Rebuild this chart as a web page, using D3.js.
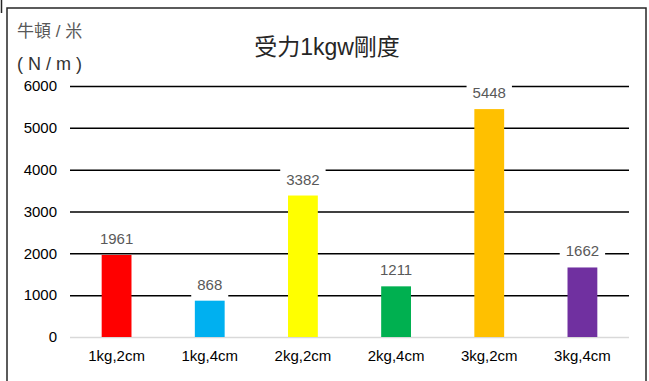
<!DOCTYPE html>
<html>
<head>
<meta charset="utf-8">
<script src="https://cdn.jsdelivr.net/npm/d3@7/dist/d3.min.js"></script>
<style>
  html, body { margin: 0; padding: 0; background: #fff; }
  svg { display: block; }
  text { font-family: "Liberation Sans", Arial, "Noto Sans CJK TC", sans-serif; }
</style>
</head>
<body>
<svg id="chart" width="649" height="381"></svg>
<script>
// Stiffness per 1 kgw of load, by mass and spring length
const categories = ["1kg,2cm", "1kg,4cm", "2kg,2cm", "2kg,4cm", "3kg,2cm", "3kg,4cm"];
const stiffness = [1961, 868, 3382, 1211, 5448, 1662];
const barColors = ["#ff0000", "#00b0f0", "#ffff00", "#00b050", "#ffc000", "#7030a0"];
const yTicks = [0, 1000, 2000, 3000, 4000, 5000, 6000];
const titleText = "受力1kgw剛度";
const yTitleLines = ["牛頓 / 米", "( N / m )"];

const svg = d3.select("#chart");
const plot = { left: 70, right: 629, top: 86, bottom: 337 };

// outer frame
svg.append("rect").attr("x", 7).attr("y", 8).attr("width", 639).attr("height", 380)
  .attr("fill", "#fff").attr("stroke", "#262626").attr("stroke-width", 1.5);
svg.append("line").attr("x1", 1.5).attr("x2", 1.5).attr("y1", 0).attr("y2", 13)
  .attr("stroke", "#262626").attr("stroke-width", 1.5);

const x = d3.scaleBand().domain(categories).range([plot.left, plot.right]).paddingInner(0.68).paddingOuter(0.34);
const y = d3.scaleLinear().domain([0, 6000]).range([plot.bottom, plot.top]);

// horizontal gridlines
const yAxis = d3.axisLeft(y).tickValues(yTicks).tickSize(-(plot.right - plot.left)).tickPadding(13).tickFormat(d3.format("d"));
const gy = svg.append("g").attr("transform", `translate(${plot.left},0)`).call(yAxis);
gy.select(".domain").remove();
gy.selectAll(".tick line")
  .attr("stroke", d => d === 0 ? "#d9d9d9" : "#000")
  .attr("stroke-width", 1.5);
gy.selectAll(".tick text").attr("font-size", 15).attr("fill", "#000");

// category axis
const xAxis = d3.axisBottom(x).tickSize(0).tickPadding(13);
const gx = svg.append("g").attr("transform", `translate(0,${plot.bottom})`).call(xAxis);
gx.select(".domain").remove();
gx.selectAll(".tick text").attr("font-size", 15).attr("fill", "#000");

// bars
svg.append("g").selectAll("rect").data(stiffness).join("rect")
  .attr("x", (d, i) => x(categories[i]))
  .attr("width", x.bandwidth())
  .attr("y", d => y(d))
  .attr("height", d => y(0) - y(d))
  .attr("fill", (d, i) => barColors[i]);

// value labels on a white backing
const lab = svg.append("g").selectAll("g").data(stiffness).join("g")
  .attr("transform", (d, i) => `translate(${x(categories[i]) + x.bandwidth() / 2},${y(d)})`);
lab.append("text")
  .attr("text-anchor", "middle").attr("y", -11)
  .attr("font-size", 15).attr("fill", "#595959")
  .text(d => d);
lab.each(function () {
  const g = d3.select(this);
  const w = g.select("text").node().getComputedTextLength();
  g.insert("rect", "text").attr("x", -w / 2 - 6).attr("width", w + 12)
    .attr("y", -27).attr("height", 24).attr("fill", "#fff");
});

// title
svg.append("text").attr("x", 327).attr("y", 55).attr("text-anchor", "middle")
  .attr("font-size", 23).attr("fill", "#262626").text(titleText);

// y-axis unit title
svg.append("text").attr("x", 17).attr("y", 37)
  .attr("font-size", 17).attr("fill", "#595959").text(yTitleLines[0]);
svg.append("text").attr("x", 17).attr("y", 70).attr("xml:space", "preserve")
  .attr("font-size", 18).attr("fill", "#333").text(yTitleLines[1]);
</script>
</body>
</html>
